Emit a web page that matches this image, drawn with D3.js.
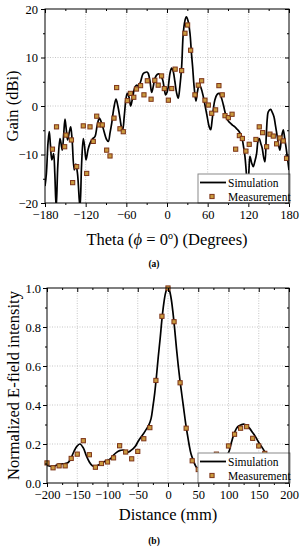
<!DOCTYPE html>
<html><head><meta charset="utf-8">
<script src="https://cdn.jsdelivr.net/npm/d3@7"></script>
<style>body{margin:0;background:#fff}svg{display:block}</style>
</head><body><svg id="c" width="300" height="550"></svg>
<script>
// ---------- Panel (a) data ----------
const thetaTicks = [-180,-120,-60,0,60,120,180];
const gainTicks = [-20,-10,0,10,20];
const simA = [
[-180,-16.5],[-178,-14],[-175.5,-7.5],[-173.7,-5.3],[-172,-8],[-170,-11.1],[-168.5,-10.5],[-167.2,-9.8],[-165.5,-14],[-163.5,-21],[-161,-12],[-157.9,-6.7],[-156,-8],[-154.5,-9.1],[-152.5,-6],[-150.5,-2.7],[-148.5,-5],[-146.6,-7.0],[-144.3,-5.5],[-142.1,-4.3],[-140,-7],[-136.8,-13.2],[-134.5,-12],[-132,-14],[-128.4,-21],[-126,-12],[-123.5,-6.7],[-121.5,-8.5],[-119.5,-11.1],[-116.5,-9],[-113.6,-7.7],[-110,-6.8],[-106.3,-6.3],[-103,-4],[-99.9,-2.5],[-96.5,-3.5],[-93,-5.2],[-89.5,-6.8],[-86.6,-7.3],[-84,-5.5],[-81.6,-3.6],[-78.5,-0.5],[-75.3,1.4],[-72.5,0],[-69.4,-2.5],[-67,-4.5],[-65.4,-4.9],[-63,-2],[-60.5,1.5],[-58.6,2.6],[-56,1.8],[-53.6,0],[-51,1.5],[-47.3,3.9],[-44.5,4.3],[-42.4,4.1],[-39,5],[-35.5,6.6],[-32.5,6.9],[-29.5,7.0],[-27.6,6.7],[-25,5],[-22.6,2.8],[-20,4.2],[-17.8,5.7],[-14.5,6.5],[-11.4,6.6],[-9,6.2],[-6.4,5.4],[-4,3.6],[-2,2.3],[0,2.8],[1.9,4.0],[4.5,6.8],[6.9,7.8],[9,7.2],[11.7,5.0],[14,2.8],[16.6,1.6],[19,4],[21.6,8.1],[24,15],[26.5,17.6],[28.5,18.4],[31,17.6],[33.9,15],[36,11],[37.8,8.1],[40,4],[42.7,1.0],[45,3],[47.6,4.5],[50,3.8],[53,2.3],[56,0.2],[59,-2],[62.3,-4.3],[64.4,-4.9],[66.5,-3],[68.5,-0.5],[70.7,1.3],[74,2.4],[77.1,2.6],[80,1.8],[83,0.3],[86,-1.5],[88,-2.5],[91,-3.2],[93.9,-3.6],[97,-4.0],[100.2,-4.3],[103.5,-4.8],[106.6,-5.3],[110.1,-6.3],[112.5,-8],[115,-10.4],[117.5,-14.5],[119.5,-17],[121,-13],[122.4,-10.4],[125,-11.8],[127.2,-12.5],[129.5,-11.5],[132.2,-9.8],[134.3,-7.2],[136.1,-6.7],[138.5,-7.8],[140.5,-8.7],[142.5,-10.5],[144.5,-11.5],[146.5,-6],[148,-2.5],[149.4,-1.2],[152.9,-0.7],[155,-1.2],[157.8,-2.2],[160,-4],[162.7,-6.3],[164.5,-8],[166.6,-9.1],[169,-6.5],[171.5,-4.9],[173.5,-6.5],[175.5,-8.4],[178,-11],[180,-13.2]
];
const measA = [
[-169,-8.9],[-163,-4.3],[-151,-8.4],[-149,-6.0],[-141,-7.0],[-139.2,-15.8],[-133.2,-12.5],[-123.5,-4.1],[-118.5,-13.9],[-113.6,-4.3],[-108.8,-7.3],[-103.7,-2.1],[-99.9,-3.9],[-95.5,-3.9],[-89,-9.1],[-84.1,-10.3],[-78.2,-2.5],[-74.3,3.8],[-69.4,-4.7],[-64.5,-5.3],[-58.6,1.1],[-54,2.6],[-49,1.8],[-45,3.5],[-39,4.2],[-34,2.3],[-29,5.2],[-23.5,1.4],[-18,5.3],[-13,4.3],[-8,6.2],[-4,3.6],[2,1.2],[7,3.6],[12,7.6],[21.6,7.3],[26.5,15],[30.4,16.7],[34.9,11.5],[41.2,2.3],[46.1,4.3],[51.1,5.2],[56,1.2],[61,0.2],[66,-1.5],[71.7,-0.8],[76.6,4.2],[81.5,2.3],[85.6,-2.0],[90.5,-2.4],[96,-1.7],[101.3,-8.9],[106.8,-6.1],[111.2,-6.7],[116.4,-9.3],[121.3,-7.9],[131.2,-6.9],[136.1,-4.3],[141.1,-5.5],[147,-8.4],[151.9,-5.8],[156.8,-6.2],[161.7,-7.8],[166.6,-6.6],[171.5,-7.2],[176.4,-10.8]
];

// ---------- Panel (b) data ----------
const distTicks = [-200,-150,-100,-50,0,50,100,150,200];
const intTicks = [0,0.2,0.4,0.6,0.8,1.0];
const simB = [
[-200,0.09],[-190,0.085],[-180,0.097],[-170,0.10],[-165,0.105],[-160,0.13],[-155,0.165],[-150,0.19],[-145.5,0.2],[-140,0.18],[-135,0.14],[-130,0.108],[-125,0.088],[-120,0.085],[-115,0.092],[-110,0.1],[-105,0.11],[-100,0.115],[-95,0.125],[-90,0.143],[-85,0.157],[-80,0.166],[-74,0.169],[-70,0.163],[-66,0.158],[-62,0.165],[-58,0.175],[-54,0.188],[-50,0.21],[-46,0.23],[-40,0.255],[-36,0.275],[-32,0.295],[-28,0.33],[-25,0.39],[-22,0.46],[-19,0.55],[-16,0.65],[-13,0.74],[-10,0.84],[-7,0.92],[-4,0.975],[-1,1.0],[2,0.99],[5,0.95],[8,0.88],[11,0.79],[14,0.69],[17,0.6],[20,0.52],[23,0.45],[26,0.38],[29,0.31],[32,0.25],[35,0.195],[38,0.15],[42,0.115],[46,0.085],[50,0.07],[55,0.058],[60,0.056],[70,0.07],[80,0.09],[90,0.12],[100,0.155],[105,0.21],[110,0.26],[115,0.288],[120,0.297],[125,0.302],[130,0.295],[135,0.28],[140,0.258],[145,0.235],[150,0.208],[155,0.185],[160,0.16],[165,0.13],[170,0.1],[175,0.08]
];
const measB = [
[-200,0.103],[-190,0.078],[-180,0.088],[-170,0.088],[-160,0.126],[-150,0.148],[-140,0.217],[-130,0.145],[-120,0.081],[-110,0.1],[-100,0.108],[-90,0.129],[-80,0.191],[-70,0.159],[-60,0.124],[-50,0.162],[-40,0.227],[-30,0.284],[-20,0.526],[-10,0.855],[0,1.0],[10,0.827],[20,0.514],[30,0.281],[40,0.114],[50,0.069],[80,0.148],[100,0.19],[110,0.25],[120,0.281],[130,0.289],[140,0.229],[150,0.19],[160,0.152]
];

const FONT = "'Liberation Serif','Times New Roman',serif";
const MFILL = "#c99a3e", MSTROKE = "#7e3418";
const svg = d3.select("#c");

function panel(cfg) {
  const {id, x0, x1, y0, y1, xdom, ydom, xticks, yticks, xminor, yminor, sim, meas, fmtY, ypad, leg} = cfg;
  const x = d3.scaleLinear().domain(xdom).range([x0, x1]);
  const y = d3.scaleLinear().domain(ydom).range([y1, y0]);
  const g = svg.append("g");

  g.append("clipPath").attr("id", id).append("rect")
    .attr("x", x0).attr("y", y0).attr("width", x1 - x0).attr("height", y1 - y0);

  const inner = xticks.filter(t => t !== xdom[0] && t !== xdom[1]);
  const innerY = yticks.filter(t => t !== ydom[0] && t !== ydom[1]);
  g.selectAll(null).data(inner).enter().append("line")
    .attr("x1", d => x(d)).attr("x2", d => x(d)).attr("y1", y0).attr("y2", y1)
    .attr("stroke", "#b8b8b8").attr("stroke-width", 0.8).attr("stroke-dasharray", "1,1.5");
  g.selectAll(null).data(innerY).enter().append("line")
    .attr("y1", d => y(d)).attr("y2", d => y(d)).attr("x1", x0).attr("x2", x1)
    .attr("stroke", "#b8b8b8").attr("stroke-width", 0.8).attr("stroke-dasharray", "1,1.5");

  const line = d3.line().x(d => x(d[0])).y(d => y(d[1])).curve(d3.curveCatmullRom.alpha(0.5));
  g.append("path").datum(sim).attr("d", line).attr("fill", "none")
    .attr("stroke", "#000").attr("stroke-width", 1.7).attr("clip-path", `url(#${id})`);

  const s = 4.2;
  g.selectAll(null).data(meas).enter().append("rect")
    .attr("x", d => x(d[0]) - s/2).attr("y", d => y(d[1]) - s/2)
    .attr("width", s).attr("height", s)
    .attr("fill", MFILL).attr("stroke", MSTROKE).attr("stroke-width", 1);

  const styleAxis = sel => {
    sel.selectAll("path.domain").remove();
    sel.selectAll("line").attr("stroke", "#000").attr("stroke-width", 1);
    sel.selectAll("text").attr("font-family", FONT).attr("font-size", 12.5).attr("fill", "#000");
  };
  g.append("g").attr("transform", `translate(0,${y1})`)
    .call(d3.axisBottom(x).tickValues(xticks).tickSize(4).tickPadding(3).tickFormat(d3.format("d"))).call(styleAxis);
  g.append("g").attr("transform", `translate(0,${y1})`)
    .call(d3.axisBottom(x).tickValues(xminor).tickSize(2).tickFormat("")).call(styleAxis);
  g.append("g").attr("transform", `translate(${x0},0)`)
    .call(d3.axisLeft(y).tickValues(yticks).tickSize(4).tickPadding(ypad).tickFormat(fmtY)).call(styleAxis);
  g.append("g").attr("transform", `translate(${x0},0)`)
    .call(d3.axisLeft(y).tickValues(yminor).tickSize(2).tickFormat("")).call(styleAxis);
  g.append("g").attr("transform", `translate(0,${y0})`)
    .call(d3.axisTop(x).tickValues(xticks).tickSize(-4).tickFormat("")).call(styleAxis);
  g.append("g").attr("transform", `translate(0,${y0})`)
    .call(d3.axisTop(x).tickValues(xminor).tickSize(-2).tickFormat("")).call(styleAxis);
  g.append("g").attr("transform", `translate(${x1},0)`)
    .call(d3.axisRight(y).tickValues(yticks).tickSize(-4).tickFormat("")).call(styleAxis);
  g.append("g").attr("transform", `translate(${x1},0)`)
    .call(d3.axisRight(y).tickValues(yminor).tickSize(-2).tickFormat("")).call(styleAxis);

  const lg = g.append("g");
  lg.append("rect").attr("x", leg.x).attr("y", leg.y).attr("width", x1 - leg.x + 1).attr("height", y1 - leg.y)
    .attr("fill", "#fff").attr("stroke", "#8a8a8a").attr("stroke-width", 1);
  lg.append("line").attr("x1", leg.x + 2).attr("x2", leg.x + 28).attr("y1", leg.y + 8.5).attr("y2", leg.y + 8.5)
    .attr("stroke", "#000").attr("stroke-width", 1.8);
  lg.append("text").attr("x", leg.x + 30).attr("y", leg.y + 12.5).text("Simulation")
    .attr("font-family", FONT).attr("font-size", 11.5);
  lg.append("rect").attr("x", leg.x + 14 - s/2).attr("y", leg.y + 22.5 - s/2).attr("width", s).attr("height", s)
    .attr("fill", MFILL).attr("stroke", MSTROKE).attr("stroke-width", 1);
  lg.append("text").attr("x", leg.x + 30).attr("y", leg.y + 26.5).text("Measurement")
    .attr("font-family", FONT).attr("font-size", 11.5);

  g.append("rect").attr("x", x0).attr("y", y0).attr("width", x1 - x0).attr("height", y1 - y0)
    .attr("fill", "none").attr("stroke", "#000").attr("stroke-width", 1);
  return g;
}

panel({
  id: "clipA", x0: 45, x1: 289, y0: 9, y1: 203,
  xdom: [-180, 180], ydom: [-20, 20],
  xticks: thetaTicks, yticks: gainTicks,
  xminor: d3.range(-150, 180, 60), yminor: d3.range(-15, 20, 10),
  sim: simA, meas: measA, fmtY: d3.format("d"), ypad: 3,
  leg: {x: 198, y: 174}
});
panel({
  id: "clipB", x0: 47, x1: 289, y0: 288, y1: 483,
  xdom: [-200, 200], ydom: [0, 1],
  xticks: distTicks, yticks: intTicks,
  xminor: d3.range(-175, 200, 50), yminor: [0.1, 0.3, 0.5, 0.7, 0.9],
  sim: simB, meas: measB, fmtY: d3.format(".1f"), ypad: 2,
  leg: {x: 198, y: 453}
});

const tA = svg.append("text").attr("x", 167).attr("y", 245).attr("text-anchor", "middle")
  .attr("font-family", FONT).attr("font-size", 16.5);
tA.append("tspan").text("Theta (");
tA.append("tspan").attr("font-style", "italic").text("ϕ");
tA.append("tspan").text(" = 0");
tA.append("tspan").attr("font-size", 10).attr("dy", -6).text("o");
tA.append("tspan").attr("dy", 6).text(") (Degrees)");

svg.append("text").attr("transform", "translate(18,106) rotate(-90)").attr("text-anchor", "middle")
  .attr("font-family", FONT).attr("font-size", 16.5).text("Gain (dBi)");

svg.append("text").attr("x", 168).attr("y", 520).attr("text-anchor", "middle")
  .attr("font-family", FONT).attr("font-size", 16.5).text("Distance (mm)");
svg.append("text").attr("transform", "translate(19,385.5) rotate(-90)").attr("text-anchor", "middle")
  .attr("font-family", FONT).attr("font-size", 16.5).text("Normalized E-field intensity");

svg.append("text").attr("x", 154).attr("y", 267).attr("text-anchor", "middle")
  .attr("font-family", FONT).attr("font-size", 9.5).attr("font-weight", "bold").text("(a)");
svg.append("text").attr("x", 154).attr("y", 544).attr("text-anchor", "middle")
  .attr("font-family", FONT).attr("font-size", 9.5).attr("font-weight", "bold").text("(b)");
</script></body></html>
